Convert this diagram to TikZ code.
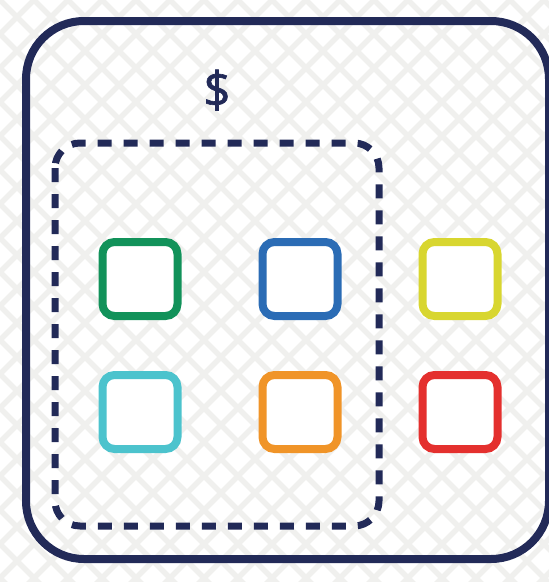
\documentclass[tikz,border=0pt]{standalone}
\usepackage{fontspec}
\setmainfont{Open Sans}
\newfontfamily\dollarfont[FakeBold=1.3]{Open Sans}
\definecolor{navy}{HTML}{222A58}
\definecolor{lat}{HTML}{F0F0EE}
\definecolor{cgreen}{HTML}{12925A}
\definecolor{cblue}{HTML}{2B6CB5}
\definecolor{cyellow}{HTML}{D8D630}
\definecolor{ccyan}{HTML}{4CC3CD}
\definecolor{corange}{HTML}{F09428}
\definecolor{cred}{HTML}{E4302E}
\begin{document}
\begin{tikzpicture}[x=1pt,y=-1pt,
  box/.style={draw=#1,line width=8pt,fill=white,rounded corners=12pt,minimum width=75pt,minimum height=74pt,inner sep=0pt},
  outerframe/.style={draw=navy,line width=8pt,rounded corners=58pt},
  dashframe/.style={draw=navy,line width=7pt,rounded corners=25pt,dash pattern=on 14pt off 12pt}]
\useasboundingbox (0,0) rectangle (549,582);
\begin{scope}
\clip (0,0) rectangle (549,582);
\foreach \c in {-612,-578,...,1200}{
  \draw[lat,line width=5.5pt] (\c,0) -- ++(600,600);
  \draw[lat,line width=5.5pt] (\c,0) -- ++(-600,600);
}
\draw[outerframe] (26,21) rectangle (549,559);
\end{scope}
\draw[dashframe] (55,143) rectangle (379,526);
\node[text=navy,font=\dollarfont\fontsize{50}{50}\selectfont,xscale=0.95] (dollar) at (217,90) {\$};
\node[box=cgreen] (g) at (140,279) {};
\node[box=cblue] (b) at (300,279) {};
\node[box=cyellow] (y) at (460,279) {};
\node[box=ccyan] (c) at (140,412) {};
\node[box=corange] (o) at (300,412) {};
\node[box=cred] (r) at (460,412) {};
\end{tikzpicture}
\end{document}
